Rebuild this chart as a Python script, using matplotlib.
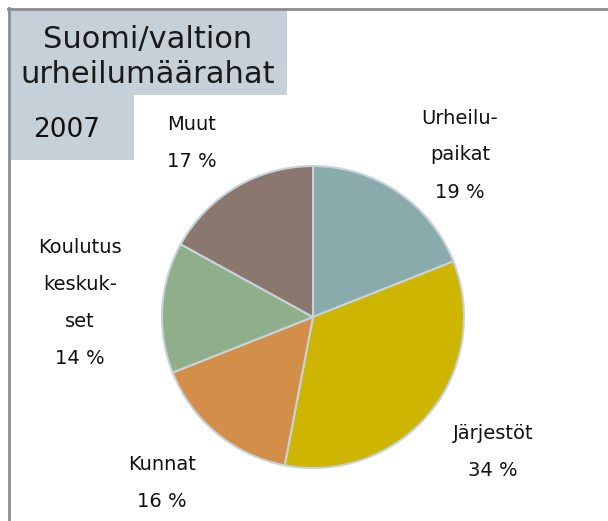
import matplotlib
matplotlib.use("Agg")
import matplotlib.pyplot as plt
from matplotlib.patches import Rectangle
from matplotlib.lines import Line2D

categories = ["Urheilu-\npaikat", "Järjestöt", "Kunnat", "Koulutus\nkeskuk-\nset", "Muut"]
values = [19, 34, 16, 14, 17]
colors = ["#8aabab", "#cdb500", "#d38f4a", "#8fae8a", "#8a786e"]
title_lines = "Suomi/valtion\nurheilumäärahat"
year = "2007"

# label positions (figure pixels from top-left)
label_pos = [(460, 155), (493, 452), (162, 483), (80, 303), (192, 143)]

W, H = 608, 521
fig = plt.figure(figsize=(W / 100, H / 100), dpi=100)

def fx(px):
    return px / W

def fy(py):
    return 1 - py / H

# frame lines
fig.add_artist(Line2D([fx(9), fx(9)], [fy(8), fy(H)], color="#8c8c8c", lw=2))
fig.add_artist(Line2D([fx(8), fx(W)], [fy(9), fy(9)], color="#8c8c8c", lw=2))

# pie axes
cx, cy, r = 313, 317, 151
ax = fig.add_axes([fx(cx - r), fy(cy + r), 2 * r / W, 2 * r / H])
ax.pie(values, colors=colors, startangle=90, counterclock=False,
       wedgeprops=dict(edgecolor="#c8d2da", linewidth=1.5))
ax.set_xlim(-1.0, 1.0)
ax.set_ylim(-1.0, 1.0)
ax.set_aspect("equal")
ax.axis("off")

lab_font = "DejaVu Sans"
for cat, v, (px, py) in zip(categories, values, label_pos):
    fig.text(fx(px), fy(py), f"{cat}\n{v} %", ha="center", va="center",
             fontsize=14, family=lab_font, linespacing=2.2, color="#111111")

# title boxes
box_color = "#c5d0d8"
fig.add_artist(Rectangle((fx(11), fy(95)), fx(287) - fx(11), fy(10) - fy(95),
                         transform=fig.transFigure, facecolor=box_color, edgecolor="none"))
fig.add_artist(Rectangle((fx(11), fy(160)), fx(134) - fx(11), fy(95) - fy(160),
                         transform=fig.transFigure, facecolor=box_color, edgecolor="none"))
fig.text(fx(148), fy(57), title_lines, ha="center", va="center", fontsize=22,
         family="DejaVu Sans", linespacing=1.3, color="#1a1a1a")
fig.text(fx(67), fy(130), year, ha="center", va="center", fontsize=19,
         family="DejaVu Sans", color="#111111")

fig.savefig("out.png", dpi=100)
